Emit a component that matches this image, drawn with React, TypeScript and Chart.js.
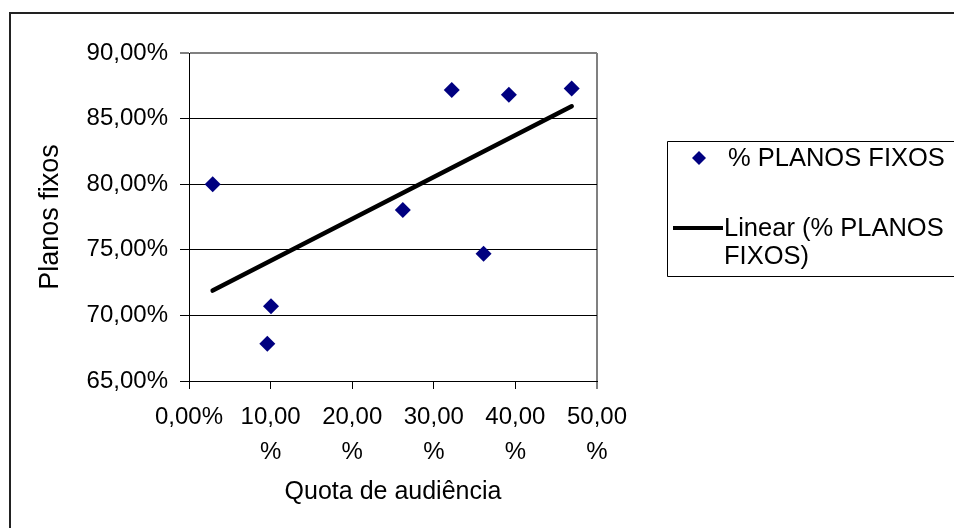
import React, { useEffect, useRef } from "react";
import { Chart, registerables } from "chart.js";

Chart.register(...registerables);

const seriesName = "% PLANOS FIXOS";
const trendName = ["Linear (% PLANOS", "FIXOS)"];
const xTitle = "Quota de audiência";
const yTitle = "Planos fixos";

// Quota de audiência (%)
const audienceShare = [2.9, 10.05, 9.6, 26.2, 32.2, 36.1, 39.2, 46.9];
// Planos fixos (%)
const fixedShots = [80.0, 70.7, 67.84, 78.03, 87.18, 74.7, 86.82, 87.3];

const xTicks = [0, 10, 20, 30, 40, 50];
const yTicks = [65, 70, 75, 80, 85, 90];

const FONT = "'Liberation Sans', Arial, sans-serif";

function linearFit(xs: number[], ys: number[]) {
  const n = xs.length;
  const mx = xs.reduce((a, b) => a + b, 0) / n;
  const my = ys.reduce((a, b) => a + b, 0) / n;
  let sxy = 0;
  let sxx = 0;
  for (let i = 0; i < n; i++) {
    sxy += (xs[i] - mx) * (ys[i] - my);
    sxx += (xs[i] - mx) * (xs[i] - mx);
  }
  const slope = sxy / sxx;
  const intercept = my - slope * mx;
  return (x: number) => intercept + slope * x;
}

export default function App() {
  const ref = useRef<HTMLCanvasElement>(null);

  useEffect(() => {
    if (!ref.current) return;
    const fit = linearFit(audienceShare, fixedShots);
    const xMin = Math.min(...audienceShare);
    const xMax = Math.max(...audienceShare);

    const framePlugin = {
      id: "frame",
      beforeDraw(chart: any) {
        const ctx = chart.ctx;
        ctx.save();
        ctx.fillStyle = "#fff";
        ctx.fillRect(0, 0, chart.width, chart.height);
        ctx.strokeStyle = "#222";
        ctx.lineWidth = 2;
        ctx.beginPath();
        ctx.moveTo(10, chart.height);
        ctx.lineTo(10, 13);
        ctx.lineTo(chart.width, 13);
        ctx.stroke();
        ctx.restore();
      },
      afterDraw(chart: any) {
        const ctx = chart.ctx;
        ctx.save();
        // legend box
        ctx.strokeStyle = "#000";
        ctx.lineWidth = 1;
        ctx.beginPath();
        ctx.moveTo(chart.width + 2, 141.5);
        ctx.lineTo(667.5, 141.5);
        ctx.lineTo(667.5, 276.5);
        ctx.lineTo(chart.width + 2, 276.5);
        ctx.stroke();
        // diamond
        ctx.fillStyle = "#000080";
        ctx.beginPath();
        ctx.moveTo(699, 151);
        ctx.lineTo(706, 158);
        ctx.lineTo(699, 165);
        ctx.lineTo(692, 158);
        ctx.closePath();
        ctx.fill();
        // line
        ctx.strokeStyle = "#000";
        ctx.lineWidth = 4;
        ctx.beginPath();
        ctx.moveTo(673, 228);
        ctx.lineTo(723, 228);
        ctx.stroke();
        ctx.fillStyle = "#000";
        ctx.font = `25.5px ${FONT}`;
        ctx.textBaseline = "middle";
        ctx.textAlign = "left";
        ctx.fillText(seriesName, 728, 159);
        ctx.fillText(trendName[0], 724, 229);
        ctx.fillText(trendName[1], 724, 257);
        ctx.restore();
      },
    };

    const chart = new Chart(ref.current, {
      type: "scatter",
      data: {
        datasets: [
          {
            label: seriesName,
            data: audienceShare.map((x, i) => ({ x, y: fixedShots[i] })),
            pointStyle: "rectRot",
            pointRadius: 8,
            pointHoverRadius: 8,
            backgroundColor: "#000080",
            borderColor: "#000080",
            borderWidth: 0,
          },
          {
            label: trendName.join(" "),
            data: [
              { x: xMin, y: fit(xMin) },
              { x: xMax, y: fit(xMax) },
            ],
            showLine: true,
            pointRadius: 0,
            borderColor: "#000",
            borderWidth: 4.5,
            borderCapStyle: "round",
          } as any,
        ],
      },
      options: {
        animation: false,
        responsive: false,
        maintainAspectRatio: false,
        layout: { padding: { left: 0, top: 53, right: 357, bottom: 0 } },
        plugins: { legend: { display: false }, tooltip: { enabled: false } },
        scales: {
          x: {
            type: "linear",
            min: xTicks[0],
            max: xTicks[xTicks.length - 1],
            afterBuildTicks: (s: any) => {
              s.ticks = xTicks.map((v) => ({ value: v }));
            },
            afterFit: (s: any) => {
              s.height = 147;
            },
            ticks: {
              autoSkip: false,
              maxRotation: 0,
              minRotation: 0,
              padding: 11,
              color: "#000",
              font: { family: FONT, size: 24, lineHeight: 1.46 },
              callback: (v: any) => (v === 0 ? "0,00%" : [`${v},00`, "%"]),
            },
            grid: {
              drawOnChartArea: true,
              color: (c: any) => (c.tick && c.tick.value === 50 ? "#808080" : "rgba(0,0,0,0)"),
              lineWidth: (c: any) => (c.tick && c.tick.value === 50 ? 2 : 1),
              tickColor: "#000",
              tickLength: 8,
              tickWidth: 1,
            },
            border: { display: true, color: "#000", width: 1 },
            title: {
              display: true,
              text: xTitle,
              color: "#000",
              font: { family: FONT, size: 25 },
              padding: { top: 0, bottom: 21 },
            },
          },
          y: {
            type: "linear",
            min: yTicks[0],
            max: yTicks[yTicks.length - 1],
            afterBuildTicks: (s: any) => {
              s.ticks = yTicks.map((v) => ({ value: v }));
            },
            afterFit: (s: any) => {
              s.width = 189;
            },
            ticks: {
              padding: 12,
              color: "#000",
              font: { family: FONT, size: 24 },
              callback: (v: any) => `${v},00%`,
            },
            grid: {
              color: (c: any) => (c.tick && c.tick.value === 90 ? "#808080" : "#000"),
              lineWidth: (c: any) => (c.tick && c.tick.value === 90 ? 2 : 1),
              tickColor: "#000",
              tickLength: 9,
              tickWidth: 1,
            },
            border: { display: true, color: "#000", width: 1 },
            title: {
              display: true,
              text: yTitle,
              color: "#000",
              font: { family: FONT, size: 27 },
              padding: { top: 34, bottom: 0 },
            },
          },
        },
      },
      plugins: [framePlugin],
    });
    return () => chart.destroy();
  }, []);

  return (
    <div style={{ position: "fixed", left: 0, top: 0, width: 954, height: 528 }}>
      <canvas ref={ref} width={954} height={528} style={{ display: "block", width: 954, height: 528 }} />
    </div>
  );
}
